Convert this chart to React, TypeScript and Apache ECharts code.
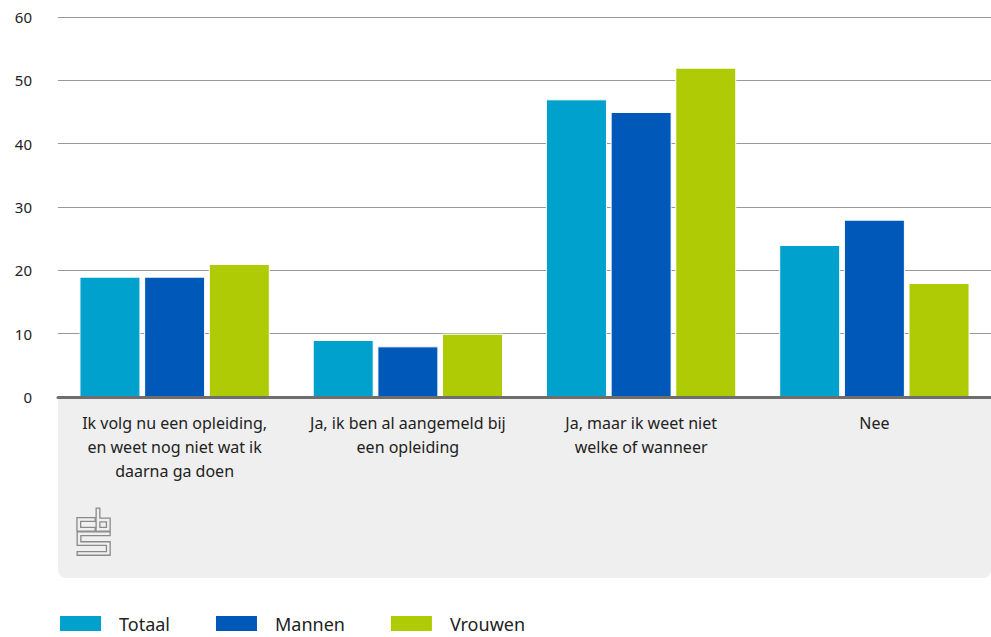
import React, { useEffect, useRef } from "react";
import * as echarts from "echarts";

const categories = [
  "Ik volg nu een opleiding,\nen weet nog niet wat ik\ndaarna ga doen",
  "Ja, ik ben al aangemeld bij\neen opleiding",
  "Ja, maar ik weet niet\nwelke of wanneer",
  "Nee",
];
const totaal = [19, 9, 47, 24];
const mannen = [19, 8, 45, 28];
const vrouwen = [21, 10, 52, 18];
const seriesNames = ["Totaal", "Mannen", "Vrouwen"];
const colors = ["#00A1CD", "#0058B8", "#AFCB05"];

const FONT = "'Noto Sans', sans-serif";

export default function App() {
  const ref = useRef<HTMLDivElement>(null);
  useEffect(() => {
    if (!ref.current) return;
    const chart = echarts.init(ref.current, undefined, { renderer: "svg" });
    const logoLines = [
      [[93.3, 519.5], [78.8, 519.5], [78.8, 529.3], [93.3, 529.3]],
      [[98, 510], [98, 529.3]],
      [[98, 520], [108.3, 520], [108.3, 529.3], [98, 529.3]],
      [[108.3, 533.8], [79, 533.8], [79, 543.6], [108.3, 543.6], [108.3, 553.4], [79, 553.4]],
    ];
    const logo: any[] = [];
    logoLines.forEach((pts) => {
      logo.push({
        type: "polyline",
        shape: { points: pts },
        style: { stroke: "#8a8a8a", lineWidth: 5, fill: null, lineJoin: "miter", lineCap: "square" },
        z: 10,
      });
    });
    logoLines.forEach((pts) => {
      logo.push({
        type: "polyline",
        shape: { points: pts },
        style: { stroke: "#efefef", lineWidth: 2.4, fill: null, lineJoin: "miter", lineCap: "square" },
        z: 11,
      });
    });
    const data = [totaal, mannen, vrouwen];
    chart.setOption({
      animation: false,
      textStyle: { fontFamily: FONT },
      grid: { left: 58, right: 0, top: 17, bottom: 240, containLabel: false },
      graphic: [
        {
          type: "rect",
          shape: { x: 58, y: 398, width: 933, height: 180, r: [0, 0, 8, 8] },
          style: { fill: "#efefef" },
          z: -10,
        },
        ...logo,
      ],
      legend: {
        left: 58,
        top: 614,
        padding: 0,
        itemWidth: 43,
        itemHeight: 17,
        itemGap: 44,
        icon: "rect",
        data: seriesNames,
        textStyle: { fontSize: 18, lineHeight: 18, color: "#222", fontFamily: FONT, padding: [0, 0, 0, 12] },
      },
      xAxis: {
        type: "category",
        data: categories,
        axisLine: { show: true, lineStyle: { color: "#6e6e6e", width: 3 } },
        axisTick: { show: false },
        axisLabel: { color: "#222", fontSize: 16, lineHeight: 24, margin: 14, interval: 0, fontFamily: FONT },
        z: 5,
      },
      yAxis: {
        type: "value",
        min: 0,
        max: 60,
        interval: 10,
        axisLine: { show: false },
        axisTick: { show: false },
        axisLabel: { color: "#222", fontSize: 15, margin: 26, fontFamily: FONT },
        splitLine: { lineStyle: { color: "#999", width: 1 } },
      },
      series: seriesNames.map((name, i) => ({
        name,
        type: "bar",
        data: data[i],
        barWidth: 61,
        barGap: "6%",
        itemStyle: { color: colors[i], borderColor: "#ffffff", borderWidth: 1 },
      })),
    });
    return () => chart.dispose();
  }, []);
  return <div ref={ref} style={{ width: 991, height: 637, position: "absolute", left: 0, top: 0 }} />;
}
